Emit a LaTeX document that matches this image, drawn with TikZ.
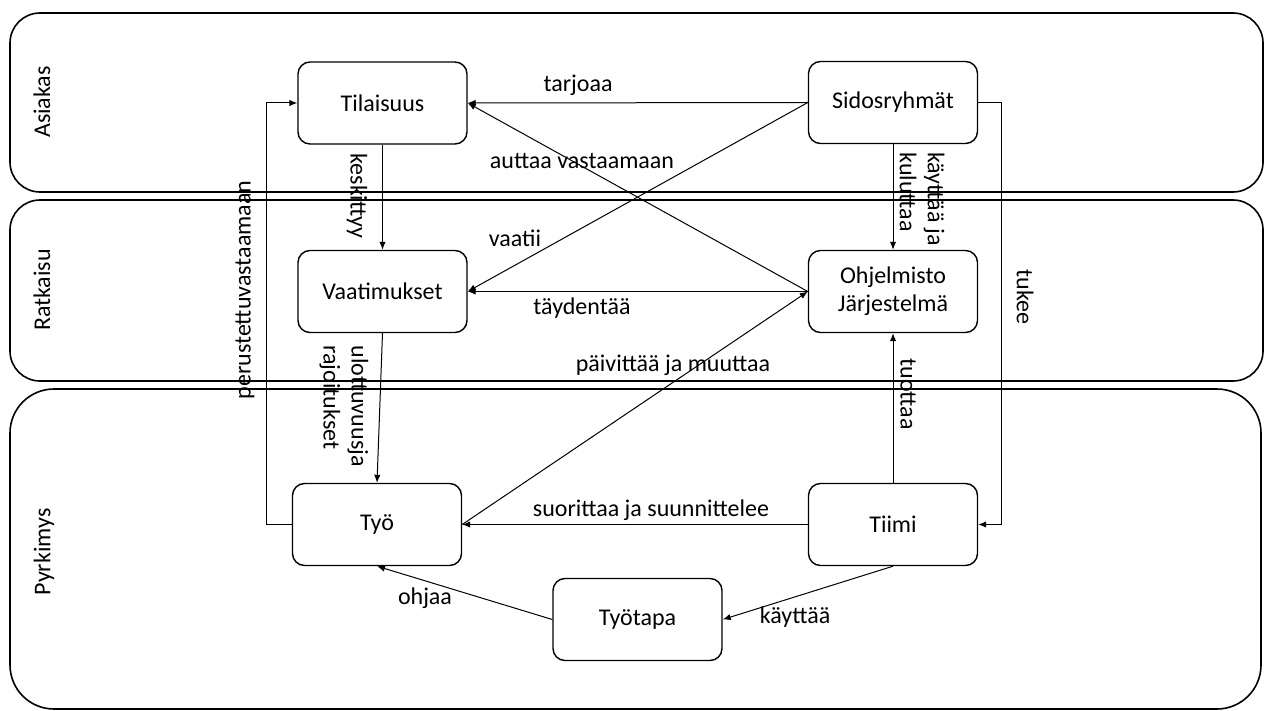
\documentclass[tikz,border=0pt]{standalone}
\usepackage{fontspec}
\setmainfont{Carlito}
\usetikzlibrary{arrows.meta}
\begin{document}
\begin{tikzpicture}[x=0.5pt,y=-0.5pt,
  lane/.style={draw,line width=0.8pt},
  box/.style={draw,line width=0.7pt,rounded corners=6pt,minimum width=84.5pt,
    minimum height=41pt,inner sep=0pt,align=center,font=\fontsize{12}{14}\selectfont},
  lbl/.style={font=\fontsize{12}{14}\selectfont,inner sep=1pt},
  conn/.style={draw,line width=0.5pt,-{Latex[length=4pt,width=3.2pt]}},
]
\useasboundingbox (0,0) rectangle (1268,711);

% swimlanes
\draw[lane,rounded corners=15pt] (10,13) rectangle (1263,192);
\draw[lane,rounded corners=15pt] (10,200) rectangle (1263,381);
\draw[lane,rounded corners=22pt] (10,389) rectangle (1261,709);
\node[lbl,rotate=90] (lA) at (42,102) {Asiakas};
\node[lbl,rotate=90] (lR) at (42,290) {Ratkaisu};
\node[lbl,rotate=90] (lP) at (44,552) {Pyrkimys};

% concepts
\node[box] (til) at (382.5,103) {Tilaisuus};
\node[box] (sid) at (893,102.5) {Sidosryhmät};
\node[box] (vaa) at (382.5,291.5) {Vaatimukset};
\node[box] (ohj) at (893,291.5) {Ohjelmisto\\Järjestelmä};
\node[box] (tyo) at (377,524.5) {Työ};
\node[box] (tii) at (893,524.5) {Tiimi};
\node[box] (tap) at (637.5,619.5) {Työtapa};

% relations
\draw[conn] (sid.west) -- (til.east);
\draw[conn] (ohj.west) -- (til.east);
\draw[conn] (sid.west) -- (vaa.east);
\draw[conn] (ohj.west) -- (vaa.east);
\draw[conn] (til.south) -- (vaa.north);
\draw[conn] (vaa.south) -- (tyo.north);
\draw[conn] (tyo.west) -- ++(-25,0) |- (til.west);
\draw[conn] (tyo.east) -- (ohj.west);
\draw[conn] (tii.west) -- (tyo.east);
\draw[conn] (tii.north) -- (ohj.south);
\draw[conn] (sid.south) -- (ohj.north);
\draw[conn] (sid.east) -- ++(23,0) |- (tii.east);
\draw[conn] (tii.south) -- (tap.east);
\draw[conn] (tap.west) -- (tyo.south);

% relation labels
\node[lbl] (t1) at (578,85) {tarjoaa};
\node[lbl] (t2) at (582,161) {auttaa vastaamaan};
\node[lbl] (t3) at (515,238) {vaatii};
\node[lbl] (t4) at (582,308) {täydentää};
\node[lbl] (t5) at (673,365) {päivittää ja muuttaa};
\node[lbl] (t6) at (651,510) {suorittaa ja suunnittelee};
\node[lbl] (t7) at (425,598) {ohjaa};
\node[lbl] (t8) at (795,617) {käyttää};
\node[lbl,rotate=-90] (t9) at (357,196) {keskittyy};
\node[lbl,rotate=-90,anchor=west,align=left] (t10) at (344,343) {ulottuvuusja\\rajoitukset};
\node[lbl,rotate=90] (t11) at (245,290) {perustettuvastaamaan};
\node[lbl,rotate=-90,anchor=west,align=left] (t12) at (922,150) {käyttää ja\\kuluttaa};
\node[lbl,rotate=-90] (t13) at (1025,297) {tukee};
\node[lbl,rotate=-90] (t14) at (908,394) {tuottaa};
\end{tikzpicture}
\end{document}
